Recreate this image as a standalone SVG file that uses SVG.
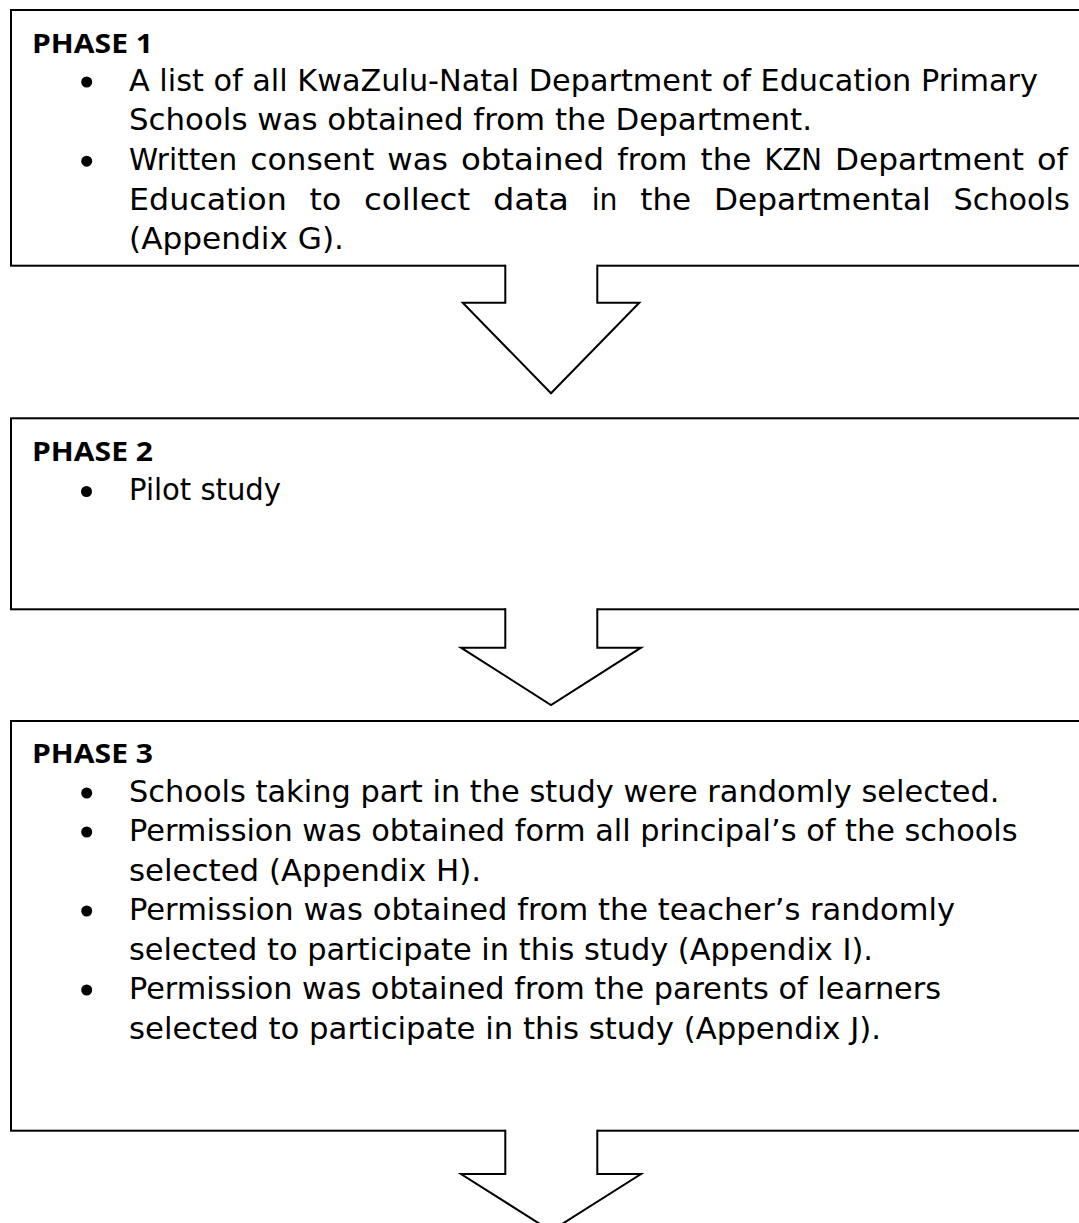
<svg xmlns="http://www.w3.org/2000/svg" width="1079" height="1223" viewBox="0 0 1079 1223">
<style>
.box{fill:#fff;stroke:#000;stroke-width:2}
.hd{font-family:"Open Sans","Liberation Sans",sans-serif;font-weight:bold;font-size:27px;fill:#000}
.tx{font-family:"DejaVu Sans","Liberation Sans",sans-serif;font-size:30px;fill:#000}
.afill{fill:#fff;stroke:none}
.aline{fill:none;stroke:#000;stroke-width:2;stroke-linejoin:miter}
.bl{fill:#000}
</style>
<rect width="1079" height="1223" fill="#fff"/>
<g id="phase1">
<rect class="box" x="11" y="10" width="1100" height="255.7"/>
<text class="hd" x="32" y="52.7" textLength="121" lengthAdjust="spacingAndGlyphs">PHASE 1</text>
<circle class="bl" cx="86.7" cy="82" r="5.5"/>
<text class="tx" x="129" y="91" textLength="909" lengthAdjust="spacingAndGlyphs">A list of all KwaZulu-Natal Department of Education Primary</text>
<text class="tx" x="129" y="130.3" textLength="683" lengthAdjust="spacingAndGlyphs">Schools was obtained from the Department.</text>
<circle class="bl" cx="86.7" cy="161.2" r="5.5"/>
<text class="tx" y="170.2"><tspan x="129" textLength="108.1" lengthAdjust="spacingAndGlyphs">Written</tspan><tspan x="250.2" textLength="124" lengthAdjust="spacingAndGlyphs">consent</tspan><tspan x="387.3" textLength="60.5" lengthAdjust="spacingAndGlyphs">was</tspan><tspan x="460.9" textLength="143.2" lengthAdjust="spacingAndGlyphs">obtained</tspan><tspan x="617.2" textLength="70.2" lengthAdjust="spacingAndGlyphs">from</tspan><tspan x="700.5" textLength="50.8" lengthAdjust="spacingAndGlyphs">the</tspan><tspan x="764.4" textLength="57.6" lengthAdjust="spacingAndGlyphs">KZN</tspan><tspan x="835.1" textLength="188.8" lengthAdjust="spacingAndGlyphs">Department</tspan><tspan x="1037" textLength="30.8" lengthAdjust="spacingAndGlyphs">of</tspan></text>
<text class="tx" y="209.5"><tspan x="129" textLength="157.8" lengthAdjust="spacingAndGlyphs">Education</tspan><tspan x="309.6" textLength="31.6" lengthAdjust="spacingAndGlyphs">to</tspan><tspan x="364" textLength="106.1" lengthAdjust="spacingAndGlyphs">collect</tspan><tspan x="492.9" textLength="76" lengthAdjust="spacingAndGlyphs">data</tspan><tspan x="591.7" textLength="25.8" lengthAdjust="spacingAndGlyphs">in</tspan><tspan x="640.3" textLength="50.8" lengthAdjust="spacingAndGlyphs">the</tspan><tspan x="713.9" textLength="216.9" lengthAdjust="spacingAndGlyphs">Departmental</tspan><tspan x="953.6" textLength="116.2" lengthAdjust="spacingAndGlyphs">Schools</tspan></text>
<text class="tx" x="129" y="248.6" textLength="215" lengthAdjust="spacingAndGlyphs">(Appendix G).</text>
</g>
<g id="phase2">
<rect class="box" x="11" y="418.3" width="1100" height="191"/>
<text class="hd" x="32" y="461" textLength="121" lengthAdjust="spacingAndGlyphs">PHASE 2</text>
<circle class="bl" cx="86.5" cy="491.5" r="5.5"/>
<text class="tx" x="129" y="500" textLength="152" lengthAdjust="spacingAndGlyphs">Pilot study</text>
</g>
<g id="phase3">
<rect class="box" x="11" y="721" width="1100" height="409.7"/>
<text class="hd" x="32" y="763.3" textLength="121" lengthAdjust="spacingAndGlyphs">PHASE 3</text>
<circle class="bl" cx="86.7" cy="793" r="5.5"/>
<text class="tx" x="129" y="802" textLength="870.5" lengthAdjust="spacingAndGlyphs">Schools taking part in the study were randomly selected.</text>
<circle class="bl" cx="86.7" cy="832" r="5.5"/>
<text class="tx" x="129" y="841" textLength="888.6" lengthAdjust="spacingAndGlyphs">Permission was obtained form all principal’s of the schools</text>
<text class="tx" x="129" y="880.5" textLength="352" lengthAdjust="spacingAndGlyphs">selected (Appendix H).</text>
<circle class="bl" cx="86.7" cy="911" r="5.5"/>
<text class="tx" x="129" y="920" textLength="826" lengthAdjust="spacingAndGlyphs">Permission was obtained from the teacher’s randomly</text>
<text class="tx" x="129" y="959.5" textLength="744" lengthAdjust="spacingAndGlyphs">selected to participate in this study (Appendix I).</text>
<circle class="bl" cx="86.7" cy="990" r="5.5"/>
<text class="tx" x="129" y="999" textLength="812" lengthAdjust="spacingAndGlyphs">Permission was obtained from the parents of learners</text>
<text class="tx" x="129" y="1038.5" textLength="752" lengthAdjust="spacingAndGlyphs">selected to participate in this study (Appendix J).</text>
</g>
<g id="connectors">
<g id="arrow1">
<path class="afill" d="M505.3,263 V302.7 H462.7 L551,393.3 L639.3,302.7 H597.3 V263 Z"/>
<path class="aline" d="M505.3,264.7 V302.7 H462.7 L551,393.3 L639.3,302.7 H597.3 V264.7"/>
</g>
<g id="arrow2">
<path class="afill" d="M505.3,606.6 V647.7 H461 L551,705 L641,647.7 H597.3 V606.6 Z"/>
<path class="aline" d="M505.3,608.3 V647.7 H461 L551,705 L641,647.7 H597.3 V608.3"/>
</g>
<g id="arrow3">
<path class="afill" d="M505.3,1128 V1174 H461 L551,1231 L641,1174 H597.3 V1128 Z"/>
<path class="aline" d="M505.3,1129.7 V1174 H461 L551,1231 L641,1174 H597.3 V1129.7"/>
</g>
</g>
</svg>
